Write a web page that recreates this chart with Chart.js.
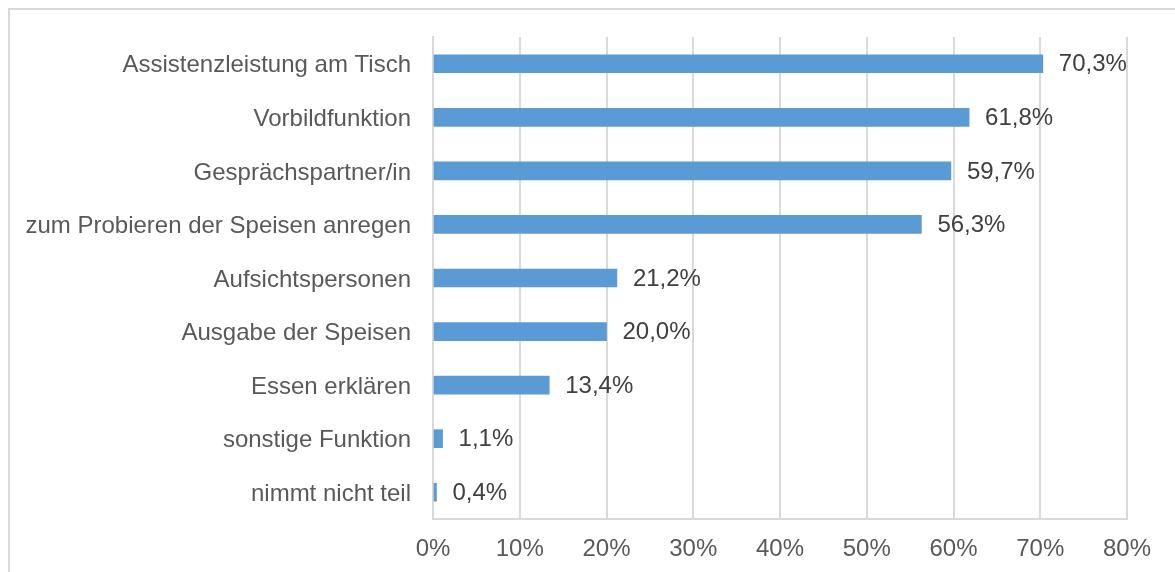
<!DOCTYPE html>
<html>
<head>
<meta charset="utf-8">
<script src="https://cdn.jsdelivr.net/npm/chart.js@4/dist/chart.umd.min.js"></script>
<style>
    body { margin: 0; background: #fff; }
    #wrap { position: relative; width: 1175px; height: 572px; overflow: hidden; }
    #frame { position: absolute; left: 8px; top: 8px; width: 1200px; height: 600px;
             border-left: 2px solid #d9d9d9; border-top: 2px solid #d9d9d9; }
    canvas { position: absolute; left: 0; top: 0; }
</style>
</head>
<body>
<div id="wrap">
    <div id="frame"></div>
    <canvas id="bar-plot" width="1175" height="572"></canvas>
</div>
<script>
const categories = ['Assistenzleistung am Tisch', 'Vorbildfunktion', 'Gesprächspartner/in',
    'zum Probieren der Speisen anregen', 'Aufsichtspersonen', 'Ausgabe der Speisen',
    'Essen erklären', 'sonstige Funktion', 'nimmt nicht teil'];
const shares = [70.3, 61.8, 59.7, 56.3, 21.2, 20.0, 13.4, 1.1, 0.4];
const xTicks = [0, 10, 20, 30, 40, 50, 60, 70, 80];

// simple value labels right of each bar
const valueLabels = {
    id: 'valueLabels',
    afterDatasetsDraw(chart) {
        const ctx = chart.ctx;
        const meta = chart.getDatasetMeta(0);
        ctx.save();
        ctx.font = '24px "Liberation Sans", Arial, sans-serif';
        ctx.fillStyle = '#404040';
        ctx.textAlign = 'left';
        ctx.textBaseline = 'middle';
        meta.data.forEach((bar, i) => {
            const txt = shares[i].toFixed(1).replace('.', ',') + '%';
            ctx.fillText(txt, bar.x + 16, bar.y + 1);
        });
        ctx.restore();
    }
};

Chart.defaults.font.family = '"Liberation Sans", Arial, sans-serif';
Chart.defaults.font.size = 24;
Chart.defaults.color = '#595959';

new Chart(document.getElementById('bar-plot').getContext('2d'), {
    type: 'bar',
    data: {
        labels: categories,
        datasets: [{
            data: shares,
            backgroundColor: '#5b9bd5',
            barThickness: 18
        }]
    },
    options: {
        indexAxis: 'y',
        responsive: false,
        animation: false,
        layout: { padding: { top: 37, right: 48, left: 0, bottom: 0 } },
        plugins: {
            legend: { display: false },
            tooltip: { enabled: false }
        },
        scales: {
            x: {
                min: 0,
                max: 80,
                afterBuildTicks(scale) {
                    scale.ticks = xTicks.map(v => ({ value: v }));
                },
                afterFit(scale) { scale.height = 53; },
                ticks: {
                    padding: 16,
                    callback: v => v + '%'
                },
                grid: { color: '#d9d9d9', lineWidth: 2, drawTicks: false },
                border: { color: '#d9d9d9', width: 2 }
            },
            y: {
                afterFit(scale) { scale.width = 433; },
                ticks: { padding: 22, labelOffset: 2 },
                grid: { display: false, drawTicks: false },
                border: { display: true, color: '#d9d9d9', width: 2 }
            }
        }
    },
    plugins: [valueLabels]
});
</script>
</body>
</html>
